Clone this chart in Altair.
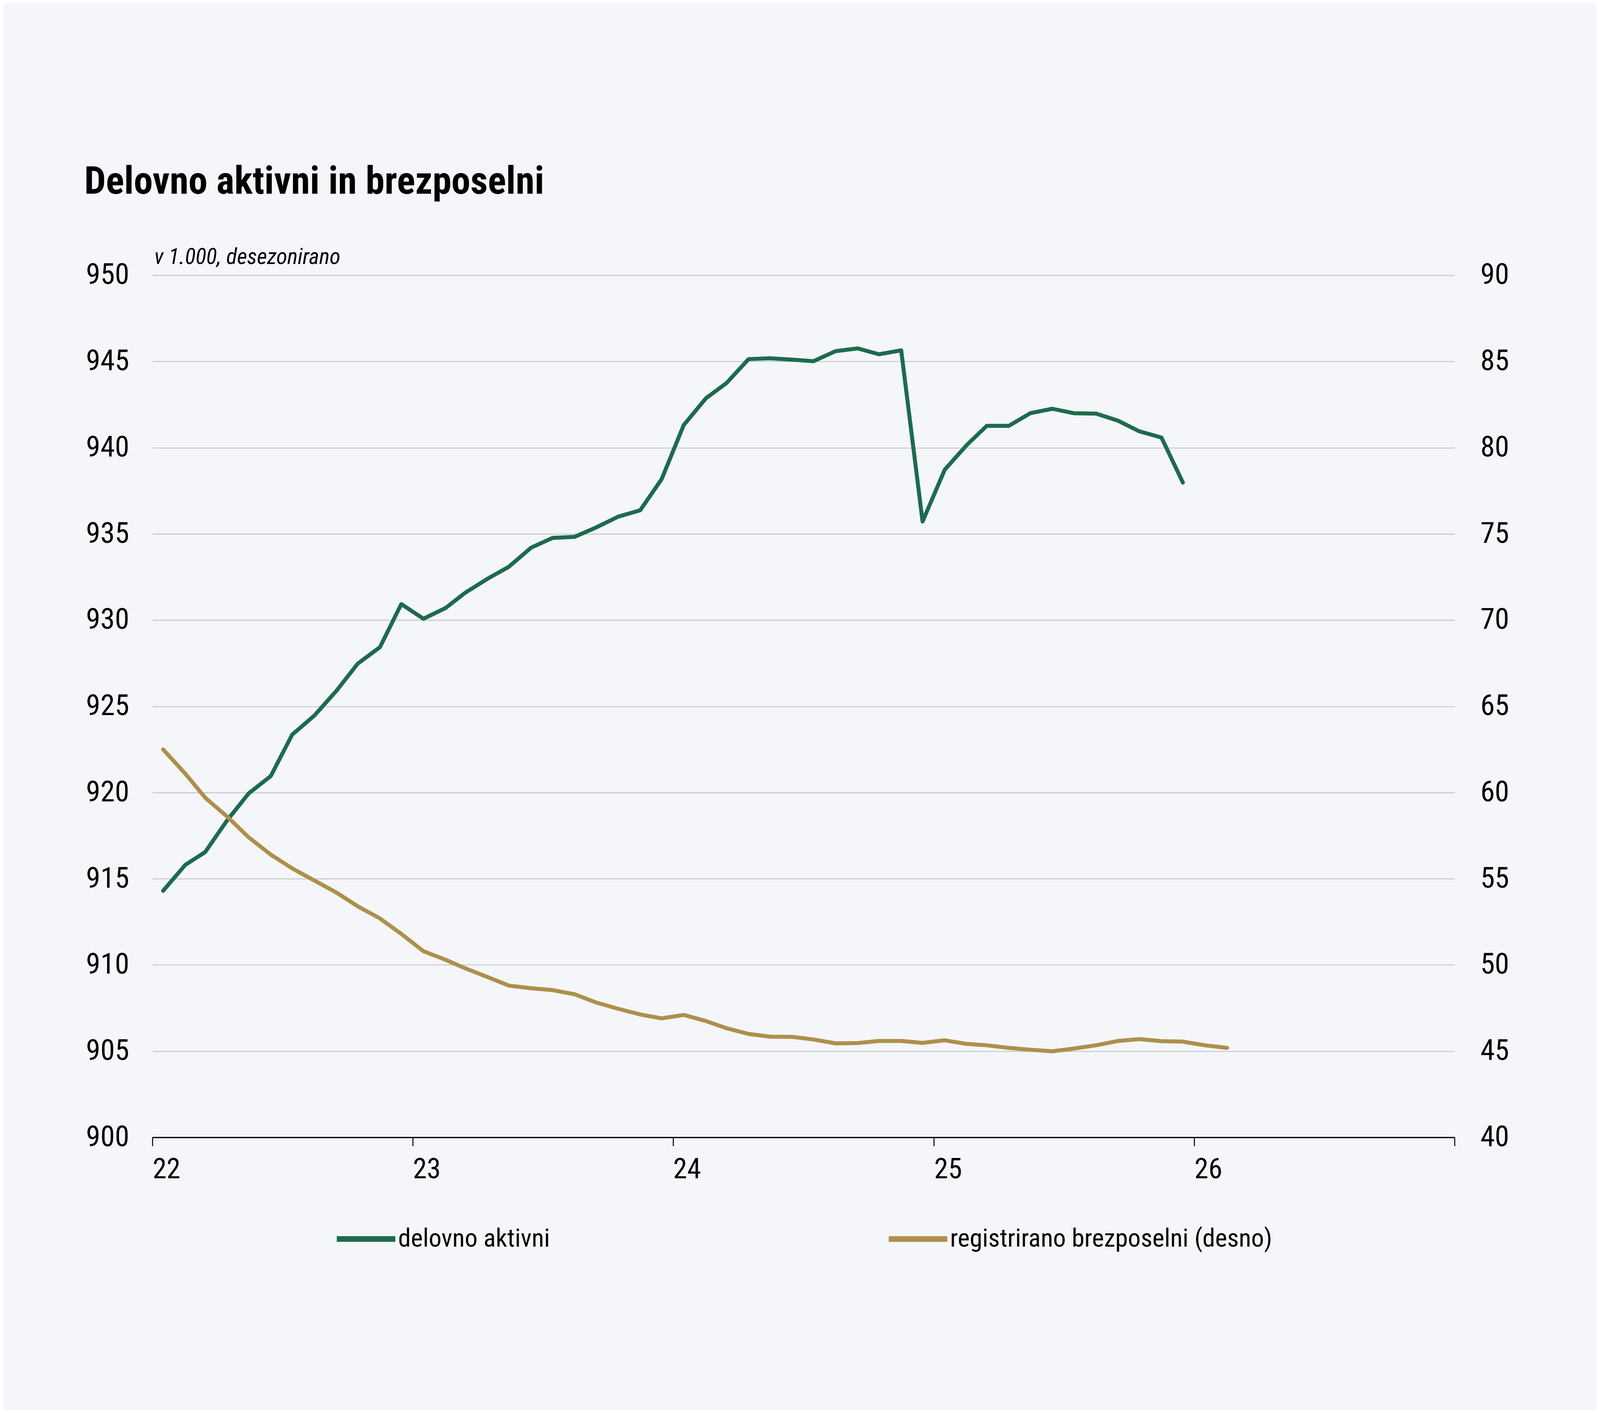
import altair as alt
import pandas as pd

# monthly data, Jan 2022 onwards (values in thousands, seasonally adjusted)
active_values = [
    914.3, 915.8, 916.55, 918.4, 919.95, 920.96, 923.36, 924.46, 925.9, 927.48, 928.43, 930.93,
    930.08, 930.7, 931.6, 932.4, 933.1, 934.2, 934.77, 934.83, 935.39, 936.0, 936.37, 938.17,
    941.31, 942.86, 943.75, 945.14, 945.19, 945.11, 945.02, 945.6, 945.76, 945.42, 945.65, 935.72,
    938.72, 940.16, 941.27, 941.27, 942.0, 942.26, 942.0, 941.98, 941.57, 940.95, 940.59, 937.98,
]
unemployed_values = [
    62.5, 61.1, 59.7, 58.6, 57.4, 56.4, 55.6, 54.9, 54.2, 53.4, 52.7, 51.8,
    50.8, 50.3, 49.8, 49.3, 48.8, 48.65, 48.54, 48.3, 47.81, 47.46, 47.13, 46.9,
    47.1, 46.75, 46.33, 46.0, 45.84, 45.83, 45.68, 45.45, 45.47, 45.59, 45.59, 45.48,
    45.63, 45.42, 45.34, 45.19, 45.08, 44.99, 45.15, 45.34, 45.59, 45.7, 45.58, 45.55,
    45.34, 45.19,
]
series_names = ["delovno aktivni", "registrirano brezposelni (desno)"]
series_colors = ["#1e6a4f", "#ae8f4b"]
left_ticks = [900, 905, 910, 915, 920, 925, 930, 935, 940, 945, 950]
right_ticks = [40, 45, 50, 55, 60, 65, 70, 75, 80, 85, 90]
year_ticks = [2022, 2023, 2024, 2025, 2026, 2027]

months = [d.strftime("%Y-%m-16") for d in pd.date_range("2022-01-01", periods=len(unemployed_values), freq="MS")]

df_active = pd.DataFrame({"date": months[:len(active_values)], "value": active_values, "series": series_names[0]})
df_unemp = pd.DataFrame({"date": months, "value": unemployed_values, "series": series_names[1]})

FONT = "Liberation Sans Narrow, Arial Narrow, Roboto Condensed, sans-serif"

x_enc = alt.X(
    "date:T",
    scale=alt.Scale(
        type="utc",
        domain=[alt.DateTime(year=2022, month=1, date=1, utc=True), alt.DateTime(year=2027, month=1, date=1, utc=True)],
    ),
    axis=alt.Axis(
        values=[alt.DateTime(year=y, month=1, date=1, utc=True) for y in year_ticks],
        labelExpr="utcyear(datum.value) >= 2027 ? '' : utcFormat(datum.value, '%y')",
        grid=False,
        domainColor="#000000",
        domainWidth=4,
        tickColor="#000000",
        tickWidth=3,
        tickSize=26,
        labelAlign="left",
        labelBaseline="top",
        labelPadding=30,
        labelFontSize=85,
        labelFont=FONT,
        labelColor="#000000",
        labelFlush=False,
        labelOverlap=False,
    ),
    title=None,
)

color_enc = alt.Color(
    "series:N",
    scale=alt.Scale(domain=series_names, range=series_colors),
    legend=alt.Legend(
        orient="none",
        legendX=546,
        legendY=2802,
        direction="horizontal",
        title=None,
        symbolType="stroke",
        symbolSize=30976,
        symbolStrokeWidth=17,
        labelFontSize=77,
        labelFont=FONT,
        labelColor="#000000",
        labelOffset=0,
        columnPadding=984,
        labelLimit=2000,
    ),
)

line_active = alt.Chart(df_active).mark_line(strokeWidth=12, strokeCap="round", strokeJoin="round").encode(
    x=x_enc,
    y=alt.Y(
        "value:Q",
        scale=alt.Scale(domain=[900, 950], nice=False, zero=False),
        axis=alt.Axis(
            values=left_ticks,
            grid=True,
            gridColor="#c9cacd",
            gridWidth=3,
            domain=False,
            ticks=False,
            labelPadding=70,
            labelFontSize=88,
            labelFont=FONT,
            labelColor="#000000",
            title="v 1.000, desezonirano",
            titleAngle=0,
            titleAlign="left",
            titleBaseline="alphabetic",
            titleX=5,
            titleY=-35,
            titleFont=FONT,
            titleFontSize=67,
            titleFontStyle="italic",
            titleFontWeight="normal",
            titleColor="#000000",
        ),
    ),
    color=color_enc,
)

line_unemp = alt.Chart(df_unemp).mark_line(strokeWidth=12, strokeCap="round", strokeJoin="round").encode(
    x=x_enc,
    y=alt.Y(
        "value:Q",
        scale=alt.Scale(domain=[40, 90], nice=False, zero=False),
        axis=alt.Axis(
            orient="right",
            values=right_ticks,
            grid=False,
            domain=False,
            ticks=False,
            labelPadding=77,
            labelFontSize=88,
            labelFont=FONT,
            labelColor="#000000",
        ),
        title=None,
    ),
    color=color_enc,
)

chart = (
    alt.layer(line_active, line_unemp)
    .resolve_scale(y="independent")
    .properties(
        width=4793,
        height=3602,
        background="#f4f6f9",
        padding={"left": 244, "top": 167, "right": 264, "bottom": 365},
        autosize=alt.AutoSizeParams(type="fit", contains="padding"),
        title=alt.TitleParams(
            text="Delovno aktivni in brezposelni",
            anchor="start",
            frame="group",
            dx=-205,
            offset=41,
            baseline="alphabetic",
            font=FONT,
            fontSize=115,
            fontWeight="bold",
            color="#000000",
        ),
    )
    .configure_view(stroke=None)
)

chart.save("out.html", embed_options={"renderer": "svg", "actions": False})
